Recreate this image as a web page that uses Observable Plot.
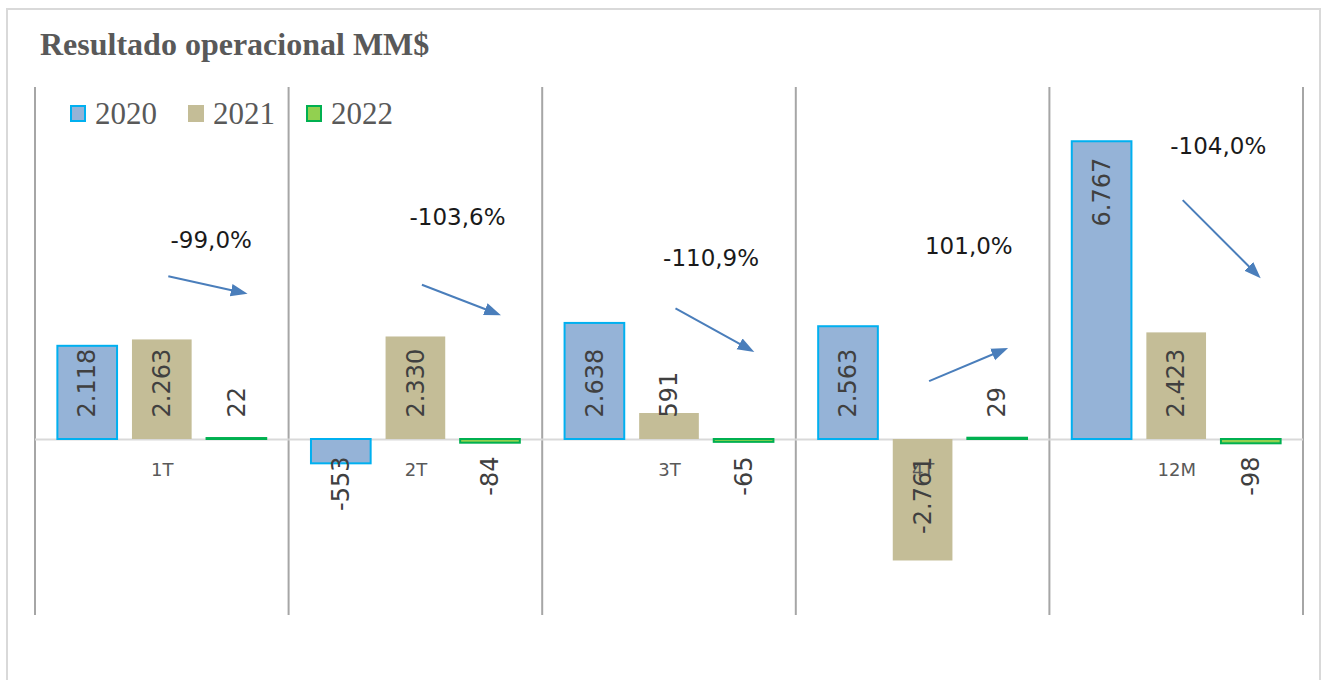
<!DOCTYPE html>
<html><head><meta charset="utf-8">
<script src="https://cdn.jsdelivr.net/npm/d3@7"></script>
<script src="https://cdn.jsdelivr.net/npm/@observablehq/plot@0.6"></script>
<style>
body{margin:0;background:#fff;}
#wrap{position:relative;width:1328px;height:680px;overflow:hidden;background:#fff;}
#frame{position:absolute;left:6px;top:8px;width:1311px;height:700px;border:2px solid #D9D9D9;}
#title{position:absolute;left:40px;top:28px;font:bold 32px "Liberation Serif";line-height:32px;color:#595959;white-space:nowrap;}
#chart{position:absolute;left:0;top:0;}
#legend{position:absolute;left:70px;top:98px;display:flex;align-items:center;}
.item{display:flex;align-items:center;margin-right:31px;}
.sw{width:16px;height:17px;box-sizing:border-box;margin-right:9px;}
.lt{font:31px "Liberation Serif";line-height:31px;color:#595959;}
</style></head><body>
<div id="wrap"><div id="frame"></div><div id="chart"></div><div id="title">Resultado operacional MM$</div><div id="legend"></div></div>
<script>
const categories = ["1T","2T","3T","4T","12M"];
const years = ["2020","2021","2022"];
const values2020 = [2118,-553,2638,2563,6767];
const values2021 = [2263,2330,591,-2761,2423];
const values2022 = [22,-84,-65,29,-98];
const changePct = [-99.0,-103.6,-110.9,101.0,-104.0];
// annotation arrows (data units)
const arrowFrom = [3711,3518,2980,1325,5441];
const arrowTo = [3334,2864,2041,2039,3743];
const pctLabelY = [4523,5045,4114,4386,6659];

const fills = {"2020":"#95B3D7","2021":"#C4BD97","2022":"#92D050"};
const strokes = {"2020":"#00B0F0","2021":"none","2022":"#00B050"};

const loc = d3.formatLocale({decimal:",",thousands:".",grouping:[3],currency:["","$"],minus:"-"});
const fmt = loc.format(",d");
const pfmt = loc.format(",.1f");

const series = [values2020, values2021, values2022];
const rows = categories.flatMap((c,i)=>series.map((vs,j)=>({cat:c,year:years[j],value:vs[i]})));
const notes = categories.map((c,i)=>({cat:c,pct:changePct[i],y1:arrowFrom[i],y2:arrowTo[i],ty:pctLabelY[i]}));

const labelStyle = {fx:"cat",x:"year",text:d=>fmt(d.value),rotate:-90,fontSize:24,fill:"#404040"};

const plot = Plot.plot({
  width:1328,height:680,marginTop:87,marginBottom:65,marginLeft:35,marginRight:25,
  style:{background:"transparent",fontFamily:"DejaVu Sans"},
  fx:{domain:categories,padding:0,round:false,axis:null},
  x:{domain:years,paddingInner:0.2,paddingOuter:0.3,round:false,axis:null},
  y:{domain:[-4000,8000],axis:null},
  marks:[
    Plot.ruleY([0],{stroke:"#D9D9D9",strokeWidth:2}),
    ...years.map(yr=>Plot.barY(rows.filter(d=>d.year===yr),{fx:"cat",x:"year",y:"value",fill:fills[yr],stroke:strokes[yr],strokeWidth:2})),
    Plot.text(categories,{fx:d=>d,text:d=>d,y:0,dy:31,fontSize:18,fill:"#595959"}),
    Plot.text(rows.filter(d=>d.value>=0&&d.value<5000),{...labelStyle,y:0,textAnchor:"start",dy:-22}),
    Plot.text(rows.filter(d=>d.value>=5000),{...labelStyle,y:"value",textAnchor:"end",dy:16}),
    Plot.text(rows.filter(d=>d.value<0),{...labelStyle,y:0,textAnchor:"end",dy:17}),
    Plot.link(notes,{fx:"cat",x1:()=>years[1],x2:()=>years[2],y1:"y1",y2:"y2",dx:6,stroke:"#4A7EBB",strokeWidth:2,markerEnd:"arrow"}),
    Plot.text(notes,{fx:"cat",x:()=>years[2],y:"ty",text:d=>pfmt(d.pct)+"%",textAnchor:"end",dx:15,fontSize:23,fill:"#1a1a1a"})
  ]
});

// separators between groups, drawn from the fx and y scales
const fxS = plot.scale("fx"), yS = plot.scale("y");
const bounds = categories.map(c=>fxS.apply(c)).concat([fxS.apply(categories[categories.length-1])+fxS.bandwidth]);
const svg = d3.select(plot);
const g = svg.insert("g",":first-child");
g.selectAll("line").data(bounds).join("line")
  .attr("x1",d=>d).attr("x2",d=>d)
  .attr("y1",yS.apply(yS.domain[1])).attr("y2",yS.apply(yS.domain[0]))
  .attr("stroke","#A6A6A6").attr("stroke-width",2);
// filled arrowheads
svg.selectAll("marker").each(function(){
  const m = d3.select(this);
  const col = m.attr("stroke");
  m.attr("markerWidth",12).attr("markerHeight",12).attr("fill",col).attr("stroke","none");
  m.selectAll("path").attr("d","M-5,-2.6L2,0L-5,2.6Z");
});
document.getElementById("chart").appendChild(plot);

// legend
const leg = d3.select("#legend");
years.forEach(yr=>{
  const it = leg.append("div").attr("class","item");
  it.append("div").attr("class","sw").style("background",fills[yr])
    .style("border",strokes[yr]==="none"?"none":`2px solid ${strokes[yr]}`);
  it.append("div").attr("class","lt").text(yr);
});
</script>
</body></html>
